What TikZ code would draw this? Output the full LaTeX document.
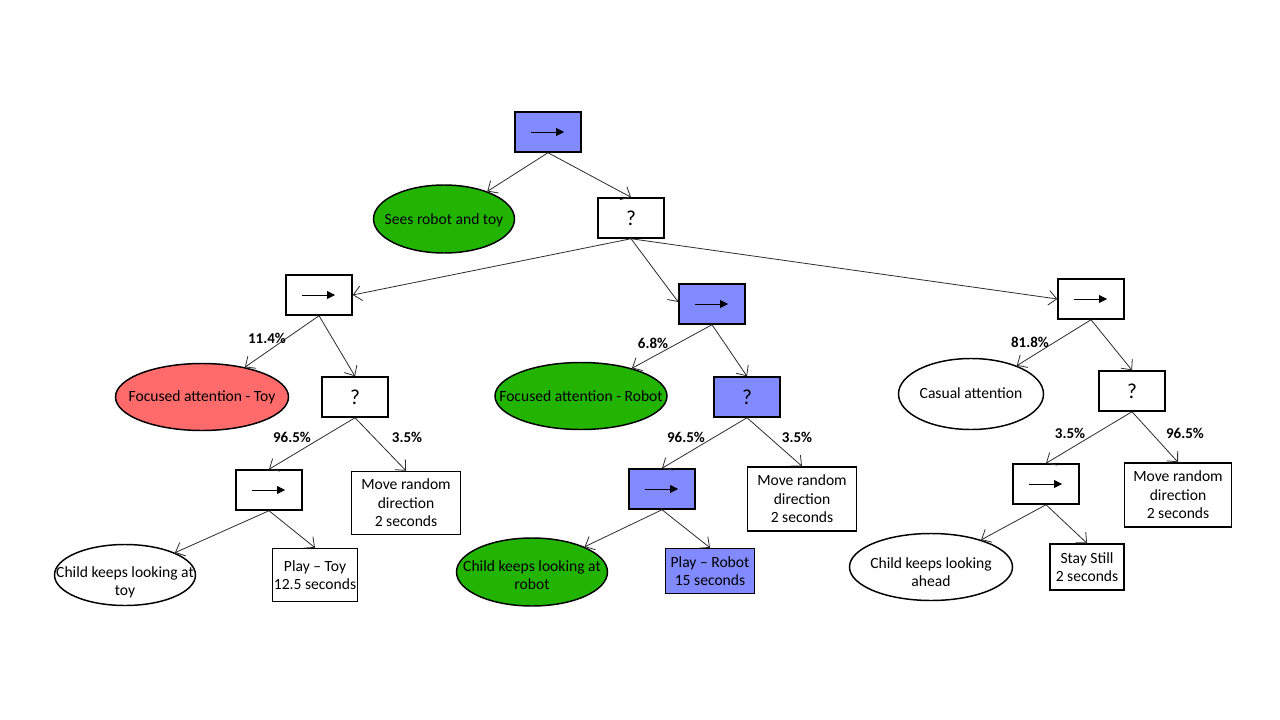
\documentclass[tikz,border=0pt]{standalone}
\usepackage{fontspec}
\setmainfont{Carlito}
\usetikzlibrary{arrows.meta,shapes.geometric}
\definecolor{bnode}{RGB}{130,138,255}
\definecolor{gnode}{RGB}{34,180,0}
\definecolor{rnode}{RGB}{255,107,107}
\definecolor{edgec}{RGB}{45,45,45}
\begin{document}
\begin{tikzpicture}[x=0.75pt,y=-0.75pt,
  txt/.style={align=center, font=\fontsize{11.7}{13.9}\selectfont},
  base/.style={draw=black, line width=1.1pt, inner sep=1pt, txt},
  seqbox/.style={base, rectangle, minimum width=49.5pt, minimum height=30pt,
    path picture={\draw[black, line width=0.6pt, -{Triangle[length=6pt,width=6pt]}]
      ([xshift=-13pt]path picture bounding box.center) --
      ([xshift=12pt]path picture bounding box.center);}},
  selbox/.style={base, rectangle, minimum width=49.5pt, minimum height=30pt,
    font=\fontsize{16}{18}\selectfont},
  actbox/.style={base, rectangle},
  cond/.style={base, ellipse, inner sep=0pt},
  lbl/.style={txt, inner sep=0pt},
  edge/.style={draw=edgec, line width=0.6pt, -{Straight Barb[length=6pt,width=11pt]}},
  pct/.style={font=\fontsize{11.25}{13}\selectfont\bfseries}
]
\useasboundingbox (0,0) rectangle (1280,720);
\fill[white] (0,0) rectangle (1280,720);

% top level
\node[seqbox, fill=bnode] (root) at (548,132) {};
\node[cond, fill=gnode, minimum width=105.75pt, minimum height=51pt,
  label={[lbl, yshift=-1pt]center:Sees robot and toy}] (sees) at (444,219) {};
\node[selbox, fill=white] (sel) at (631,218) {?};

% second level sequences
\node[seqbox, fill=white] (lseq) at (319,295) {};
\node[seqbox, fill=bnode] (mseq) at (712,304) {};
\node[seqbox, fill=white] (rseq) at (1091,299) {};

% left branch
\node[cond, fill=rnode, minimum width=129.75pt, minimum height=50.25pt,
  label={[lbl]center:Focused attention - Toy}] (ftoy) at (202,397) {};
\node[selbox, fill=white] (lsel) at (355,397) {?};
\node[seqbox, fill=white] (lseq2) at (269,490) {};
\node[actbox, fill=white, minimum width=81.75pt, minimum height=47.25pt] (lmove) at (406,503) {Move random\\direction\\2 seconds};
\node[cond, fill=white, minimum width=105.75pt, minimum height=45.75pt,
  label={[lbl, yshift=-5.5pt]center:Child keeps looking at\\toy}] (ltoy) at (125,575) {};
\node[actbox, fill=white, minimum width=63.75pt, minimum height=39.75pt] (lplay) at (315,575) {Play -- Toy\\12.5 seconds};

% middle branch
\node[cond, fill=gnode, minimum width=129pt, minimum height=50.25pt,
  label={[lbl]center:Focused attention - Robot}] (frob) at (581,396) {};
\node[selbox, fill=bnode] (msel) at (747,397) {?};
\node[seqbox, fill=bnode] (mseq2) at (662,489) {};
\node[actbox, fill=white, minimum width=81.75pt, minimum height=48pt] (mmove) at (802,499) {Move random\\direction\\2 seconds};
\node[cond, fill=gnode, minimum width=113.25pt, minimum height=51pt,
  label={[lbl, yshift=-2.5pt]center:Child keeps looking at\\robot}] (mrob) at (532,572) {};
\node[actbox, fill=bnode, minimum width=66.75pt, minimum height=33.75pt] (mplay) at (710,571) {Play -- Robot\\15 seconds};

% right branch
\node[cond, fill=white, minimum width=108.75pt, minimum height=53.25pt,
  label={[lbl, yshift=1pt]center:Casual attention}] (casual) at (971,394) {};
\node[selbox, fill=white] (rsel) at (1132,391) {?};
\node[seqbox, fill=white] (rseq2) at (1046,484) {};
\node[actbox, fill=white, minimum width=80.25pt, minimum height=48pt] (rmove) at (1178,495) {Move random\\direction\\2 seconds};
\node[cond, fill=white, minimum width=122.25pt, minimum height=50.25pt,
  label={[lbl, yshift=-4pt]center:Child keeps looking\\ahead}] (rahead) at (931,567) {};
\node[actbox, fill=white, minimum width=55.5pt, minimum height=34.5pt] (rstill) at (1087,567) {Stay Still\\2 seconds};

% edges
\draw[edge] (root.south) -- (sees);
\draw[edge] (root.south) -- (sel.north);
\draw[edge] (sel.south) -- (lseq.east);
\draw[edge] (sel.south) -- ([yshift=1.5pt]mseq.west);
\draw[edge] (sel.south) -- (rseq.west);

\draw[edge] (lseq.south) -- (ftoy);
\draw[edge] (lseq.south) -- (lsel.north);
\draw[edge] (lsel.south) -- (lseq2.north);
\draw[edge] (lsel.south) -- (lmove.north);
\draw[edge] (lseq2.south) -- (ltoy);
\draw[edge] (lseq2.south) -- (lplay.north);

\draw[edge] (mseq.south) -- (frob);
\draw[edge] (mseq.south) -- (msel.north);
\draw[edge] (msel.south) -- (mseq2.north);
\draw[edge] (msel.south) -- (mmove.north);
\draw[edge] (mseq2.south) -- (mrob);
\draw[edge] (mseq2.south) -- (mplay.north);

\draw[edge] (rseq.south) -- (casual);
\draw[edge] (rseq.south) -- (rsel.north);
\draw[edge] (rsel.south) -- (rseq2.north);
\draw[edge] (rsel.south) -- (rmove.north);
\draw[edge] (rseq2.south) -- (rahead);
\draw[edge] (rseq2.south) -- (rstill.north);

% percentages
\node[pct] (p1) at (267,338) {11.4\%};
\node[pct] (p2) at (292,437) {96.5\%};
\node[pct] (p3) at (407,437) {3.5\%};
\node[pct] (p4) at (653,343) {6.8\%};
\node[pct] (p5) at (686,437) {96.5\%};
\node[pct] (p6) at (797,437) {3.5\%};
\node[pct] (p7) at (1030,342) {81.8\%};
\node[pct] (p8) at (1070,433) {3.5\%};
\node[pct] (p9) at (1185,433) {96.5\%};
\end{tikzpicture}
\end{document}
